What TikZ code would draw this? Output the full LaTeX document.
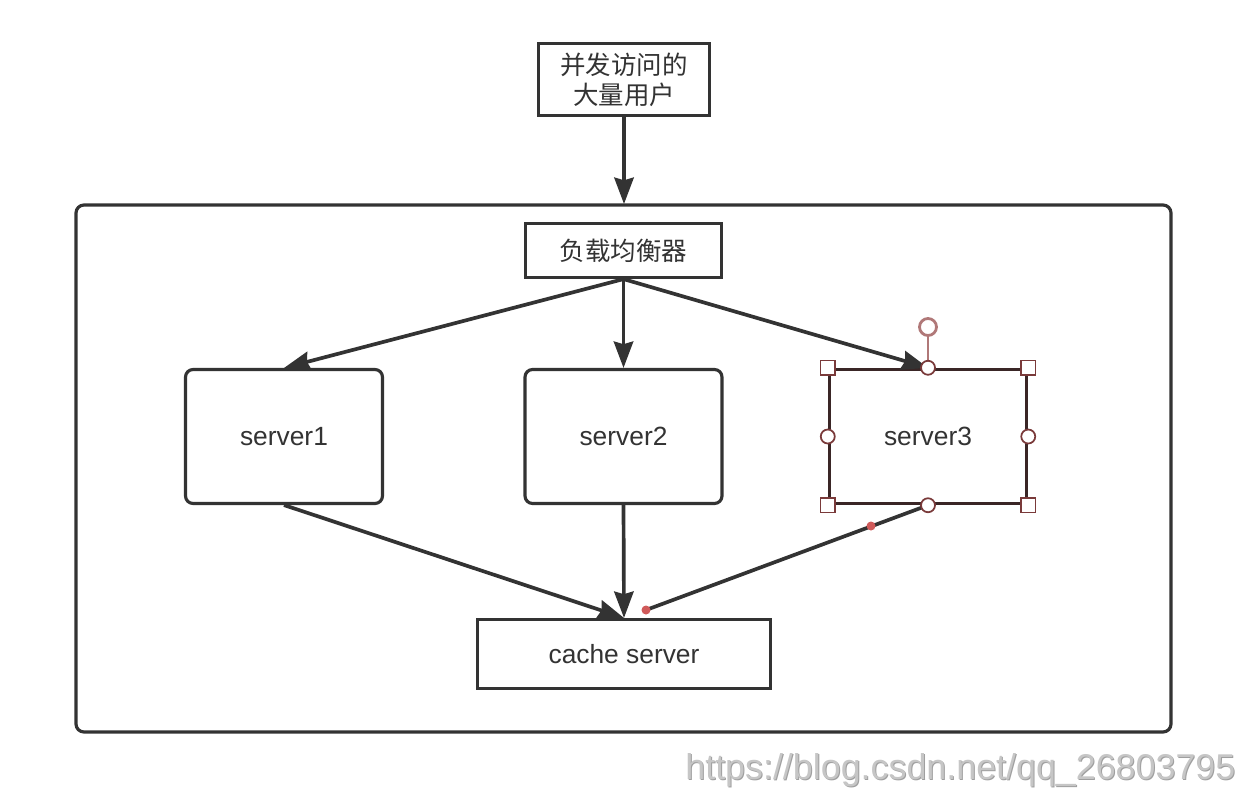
\documentclass[tikz,border=0pt]{standalone}
\usepackage{fontspec}
\setmainfont{Liberation Sans}
\newfontfamily\cjk{Noto Sans CJK SC}
\usepackage{xcolor}
\usetikzlibrary{arrows.meta}
\definecolor{linegray}{HTML}{333333}
\definecolor{selbrown}{HTML}{7A3A3A}
\definecolor{rotbrown}{HTML}{B07878}
\definecolor{boxbrown}{HTML}{3A2626}
\definecolor{dotred}{HTML}{D05A5A}

\begin{document}
\begin{tikzpicture}[x=0.02cm,y=-0.02cm,
    box/.style={draw=linegray,text=linegray,line width=1.8pt,fill=white,font=\fontsize{15}{18}\selectfont},
    srv/.style={box,rounded corners=0.15cm,minimum width=3.94cm,minimum height=2.68cm},
    arr/.style={draw=linegray,line width=2.1pt,-{Stealth[length=15pt,width=11pt,inset=1.5pt]}},
    hsq/.style={draw=selbrown,fill=white,line width=1pt,minimum size=0.29cm,inner sep=0pt},
    hci/.style={circle,draw=selbrown,fill=white,line width=1pt,minimum size=0.28cm,inner sep=0pt}]
    \useasboundingbox (0,0) rectangle (1244,794);
    \draw[draw=linegray,line width=1.8pt,rounded corners=0.16cm] (76,205) rectangle (1171,732);
    \node [box,minimum width=3.42cm,minimum height=1.44cm,align=center,font=\cjk\fontsize{14.5}{17}\selectfont] (users) at (624,79.5) {并发访问的\\大量用户};
    \node [box,minimum width=3.92cm,minimum height=1.08cm,font=\cjk\fontsize{14.5}{17}\selectfont] (lb) at (623.5,250.5) {负载均衡器};
    \node [srv] (s1) at (284,436.5) {server1};
    \node [srv] (s2) at (623.5,436.5) {server2};
    \node [box,draw=boxbrown,line width=2pt,minimum width=3.94cm,minimum height=2.68cm] (s3) at (928,436.5) {server3};
    \node [box,minimum width=5.86cm,minimum height=1.38cm] (cache) at (624,654) {cache server};
    \coordinate (s3end) at (646,610);
    \draw [arr] (users) -- (624,204);
    \draw [arr] (lb.south) -- (s1.north);
    \draw [arr] (lb.south) -- (s2.north);
    \draw [arr] (lb.south) -- (s3.north);
    \draw [arr] (s1.south) -- (cache.north);
    \draw [arr] (s2.south) -- (cache.north);
    \draw [draw=linegray,line width=2.1pt] (s3.south) -- (s3end);
    \node [circle,draw=rotbrown,line width=1.6pt,fill=white,minimum size=0.34cm,inner sep=0pt] (rot) at (928,327) {};
    \draw [draw=rotbrown,line width=1pt] (rot) -- (s3.north);
    \foreach \a in {north west,north east,south west,south east}
        \node [hsq] at (s3.\a) {};
    \foreach \a in {north,south,east,west}
        \node [hci] at (s3.\a) {};
    \fill [dotred] (871,526) circle (4.5);
    \fill [dotred] (s3end) circle (4.5);
    \node [anchor=base west,text=gray!75,font=\fontsize{20.4}{24}\selectfont,inner sep=0pt] (wm) at (686,780) {https://blog.csdn.net/qq\_26803795};
    \node [anchor=base west,text=gray!45,font=\fontsize{20.4}{24}\selectfont,inner sep=0pt] at (685,779) {https://blog.csdn.net/qq\_26803795};
\end{tikzpicture}
\end{document}
